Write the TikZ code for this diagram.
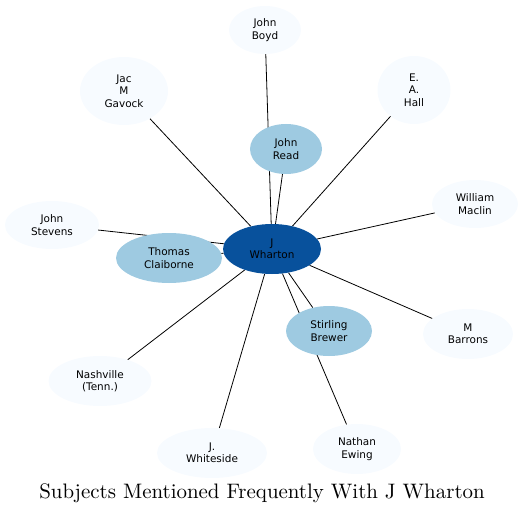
\documentclass[tikz,border=0pt]{standalone}
\usepackage{fontspec}
\newfontfamily\labelfont{DejaVu Sans}
\newfontfamily\titlefont{lmroman10-regular.otf}
\usetikzlibrary{shapes.geometric,backgrounds}
\definecolor{outerfill}{HTML}{F7FBFF}
\definecolor{midfill}{HTML}{9ECAE1}
\definecolor{corefill}{HTML}{08519C}
\tikzset{node distance=2.0cm, auto}
\tikzset{
  subject/.style={ellipse, fill=outerfill, inner sep=0pt, minimum height=48bp,
    align=center, font=\labelfont\fontsize{10.5}{12.5}\selectfont},
  linked/.style={subject, fill=midfill, minimum height=50bp},
  core/.style={subject, fill=corefill, minimum height=50bp},
  tie/.style={line width=0.8bp, black}
}
\begin{document}
\begin{tikzpicture}[x=1bp, y=-1bp]
\useasboundingbox (0,0) rectangle (524,514);
% centre
\node[core, minimum width=98bp] (wharton) at (272,249) {J\\Wharton};
% nodes that link back to others
\node[linked, minimum width=72bp] (read) at (286,149) {John\\Read};
\node[linked, minimum width=106bp] (claiborne) at (169,258) {Thomas\\Claiborne};
\node[linked, minimum width=86bp] (brewer) at (329,331) {Stirling\\Brewer};
% outer ring
\node[subject, minimum width=72bp] (boyd) at (265,30) {John\\Boyd};
\node[subject, minimum width=88bp, minimum height=68bp] (gavock) at (124,91) {Jac\\M\\Gavock};
\node[subject, minimum width=73bp, minimum height=68bp] (hall) at (414,90) {E.\\A.\\Hall};
\node[subject, minimum width=86bp] (maclin) at (475,204) {William\\Maclin};
\node[subject, minimum width=94bp] (stevens) at (52,225) {John\\Stevens};
\node[subject, minimum width=90bp, minimum height=50bp] (barrons) at (468,334) {M\\Barrons};
\node[subject, minimum width=103bp, minimum height=50bp] (nashville) at (100,381) {Nashville\\(Tenn.)};
\node[subject, minimum width=110bp, minimum height=50bp] (whiteside) at (212,453) {J.\\Whiteside};
\node[subject, minimum width=88bp, minimum height=50bp] (ewing) at (357,449) {Nathan\\Ewing};

\begin{scope}[on background layer]
  \foreach \other in {read, claiborne, brewer, boyd, gavock, hall, maclin,
                      stevens, barrons, nashville, whiteside, ewing}
    \draw[tie] (wharton) -- (\other);
\end{scope}

\node[font=\titlefont\fontsize{21}{24}\selectfont] (title) at (262,493)
  {Subjects Mentioned Frequently With J Wharton};
\end{tikzpicture}
\end{document}
